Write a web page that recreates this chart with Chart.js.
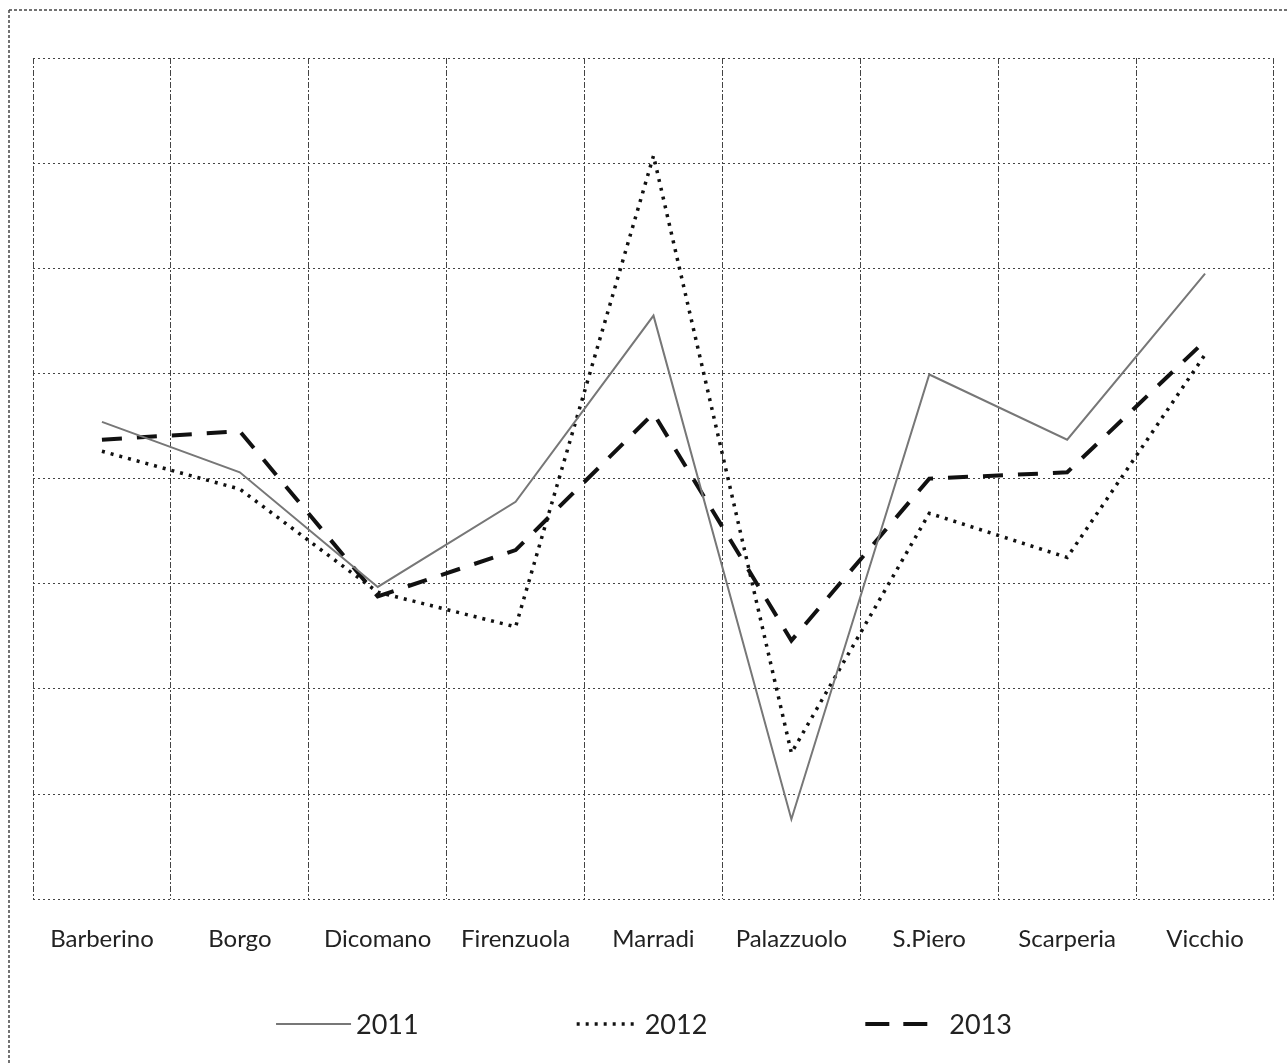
<!DOCTYPE html>
<html lang="it">
<head>
    <meta charset="UTF-8">
    <title>Comuni 2011-2013</title>
    <script src="https://cdn.jsdelivr.net/npm/chart.js"></script>
    <style>
        html, body { margin: 0; padding: 0; background: #fff; }
        #wrap { width: 1288px; height: 1064px; position: relative; }
    </style>
</head>
<body>
    <div id="wrap"><canvas id="chart"></canvas></div>

    <script>
        // Data (no y axis labels in the original)
        const comuni = ['Barberino', 'Borgo', 'Dicomano', 'Firenzuola', 'Marradi', 'Palazzuolo', 'S.Piero', 'Scarperia', 'Vicchio'];
        const v2011 = [4.54, 4.06, 2.97, 3.78, 5.55, 0.76, 4.99, 4.37, 5.95];
        const v2012 = [4.26, 3.90, 2.92, 2.59, 7.07, 1.39, 3.67, 3.25, 5.18];
        const v2013 = [4.37, 4.45, 2.88, 3.32, 4.62, 2.46, 4.00, 4.06, 5.31];
        const yMin = 0, yMax = 8;

        // dotted frame on top and left of the page
        const framePlugin = {
            id: 'frame',
            beforeDraw(chart) {
                const ctx = chart.ctx;
                ctx.save();
                ctx.strokeStyle = '#444';
                ctx.lineWidth = 1.5;
                ctx.setLineDash([3, 2]);
                ctx.beginPath();
                ctx.moveTo(9, 10);
                ctx.lineTo(1288, 10);
                ctx.moveTo(9, 10);
                ctx.lineTo(9, 1064);
                ctx.stroke();
                ctx.restore();
            }
        };

        // legend drawn by hand: the built-in one grows in height with its padding
        const legendPlugin = {
            id: 'lineLegend',
            afterDraw(chart) {
                const ctx = chart.ctx;
                const sampleW = [75, 63, 62], gap = [5, 5, 22], dash = [[], [3, 6], [24, 14]];
                const spacing = 158, y = 1024;
                ctx.save();
                ctx.font = '27px Lato';
                ctx.textBaseline = 'middle';
                const items = chart.data.datasets.map((ds, i) => ({ ds, i, w: sampleW[i] + gap[i] + ctx.measureText(ds.label).width }));
                const total = items.reduce((s, it) => s + it.w, 0) + spacing * (items.length - 1);
                let x = chart.width / 2 - total / 2;
                items.forEach(({ ds, i, w }) => {
                    ctx.strokeStyle = ds.borderColor;
                    ctx.lineWidth = ds.borderWidth;
                    ctx.setLineDash(dash[i]);
                    ctx.beginPath();
                    ctx.moveTo(x, y);
                    ctx.lineTo(x + sampleW[i], y);
                    ctx.stroke();
                    ctx.setLineDash([]);
                    ctx.fillStyle = '#222';
                    ctx.fillText(ds.label, x + sampleW[i] + gap[i], y + 1);
                    x += w + spacing;
                });
                ctx.restore();
            }
        };

        new Chart(document.getElementById('chart'), {
            type: 'line',
            data: {
                labels: comuni,
                datasets: [{
                    label: '2011',
                    data: v2011,
                    borderColor: '#777',
                    borderWidth: 2,
                    pointRadius: 0,
                    tension: 0
                }, {
                    label: '2012',
                    data: v2012,
                    borderColor: '#111',
                    borderWidth: 3.5,
                    borderDash: [3, 6],
                    pointRadius: 0,
                    tension: 0
                }, {
                    label: '2013',
                    data: v2013,
                    borderColor: '#111',
                    borderWidth: 4,
                    borderDash: [20, 15],
                    pointRadius: 0,
                    tension: 0
                }]
            },
            options: {
                responsive: true,
                maintainAspectRatio: false,
                animation: false,
                layout: { padding: { left: 33, right: 14, top: 58, bottom: 84 } },
                scales: {
                    x: {
                        offset: true,
                        border: { display: false, dash: [6, 2, 2, 2] },
                        grid: { offset: true, drawTicks: false, color: '#444', lineWidth: 1 },
                        ticks: { padding: 26, color: '#222', font: { family: 'Lato', size: 24 } }
                    },
                    y: {
                        min: yMin,
                        max: yMax,
                        border: { display: false, dash: [2, 3] },
                        grid: { drawTicks: false, color: '#444', lineWidth: 1 },
                        ticks: { display: false, stepSize: 1 }
                    }
                },
                plugins: {
                    tooltip: { enabled: false },
                    legend: { display: false }
                }
            },
            plugins: [framePlugin, legendPlugin]
        });
    </script>
</body>
</html>
